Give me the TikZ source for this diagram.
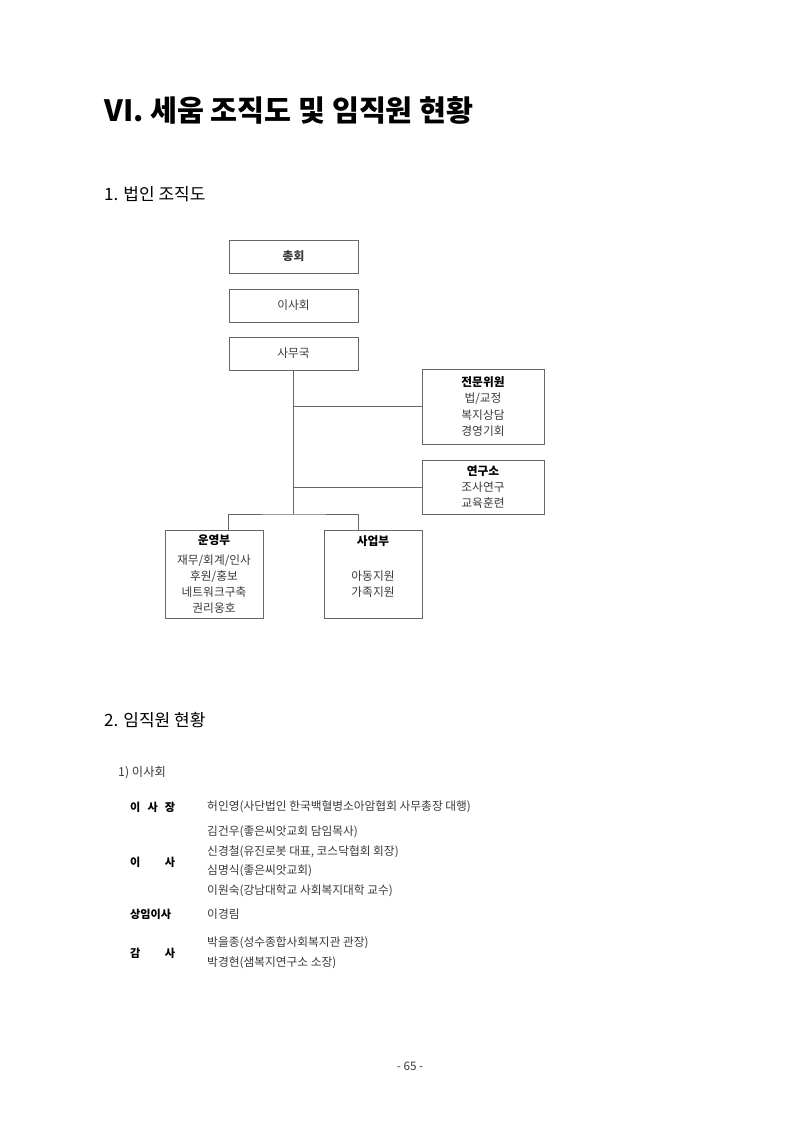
\documentclass[tikz,border=0pt]{standalone}
\usepackage{fontspec}
\setmainfont{Noto Sans CJK KR}
\usetikzlibrary{positioning}
\definecolor{linegray}{HTML}{666666}
\definecolor{textgray}{HTML}{3A3A3A}

\begin{document}
\begin{tikzpicture}[x=0.3mm, y=-0.3mm,
    box/.style={draw=linegray, line width=0.7pt, inner sep=0pt, align=center,
      text=textgray, font=\fontsize{10}{13.7}\selectfont},
    conn/.style={draw=linegray, line width=0.7pt},
    head/.style={anchor=west, inner sep=0pt, text=black},
    lbl/.style={anchor=west, inner sep=0pt, font=\fontsize{9.5}{12}\selectfont\bfseries},
    val/.style={anchor=west, inner sep=0pt, text=textgray, font=\fontsize{10}{12}\selectfont}]
    \useasboundingbox (0,0) rectangle (800,1131);
    % Headings
    \node[head, font=\fontsize{25}{30}\selectfont\bfseries] (title) at (104,110) {VI. 세움 조직도 및 임직원 현황};
    \node[head, font=\fontsize{14.5}{18}\selectfont] (sec1) at (104,194) {1. 법인 조직도};
    \node[head, font=\fontsize{14.5}{18}\selectfont] (sec2) at (104,720) {2. 임직원 현황};
    \node[head, font=\fontsize{10.5}{13}\selectfont, text=textgray] (sub1) at (118,773) {1) 이사회};
    % Org chart
    \node[box, minimum width=38.7mm, minimum height=9.9mm] (chonghoe) at (293.5,256.5) {\textbf{총회}};
    \node[box, minimum width=38.7mm, minimum height=9.9mm] (isahoe) at (293.5,305.5) {이사회};
    \node[box, minimum width=38.7mm, minimum height=9.9mm] (samuguk) at (293.5,353.5) {사무국};
    \node[box, minimum width=36.6mm, minimum height=22.5mm] (jeonmun) at (483,406.5)
      {\textcolor{black}{\textbf{전문위원}}\\법/교정\\복지상담\\경영기회};
    \node[box, minimum width=36.6mm, minimum height=16.2mm] (yeonguso) at (483,487)
      {\textcolor{black}{\textbf{연구소}}\\조사연구\\교육훈련};
    \node[box, minimum width=29.4mm, minimum height=26.4mm] (unyeong) at (214,574)
      {\textcolor{black}{\textbf{운영부}}\\[1mm]재무/회계/인사\\후원/홍보\\네트워크구축\\권리옹호};
    \node[box, minimum width=29.4mm, minimum height=26.4mm] (saeop) at (373,574)
      {\textcolor{black}{\textbf{사업부}}\\[1mm]\mbox{}\\아동지원\\가족지원\\\mbox{}};
    % Lines
    \coordinate (branch) at (293.5,514);
    \draw[conn] (samuguk.south) -- (branch);
    \draw[conn] (samuguk.south |- jeonmun.west) -- (jeonmun.west);
    \draw[conn] (samuguk.south |- yeonguso.west) -- (yeonguso.west);
    \draw[conn] (samuguk.west |- unyeong.north) |- (branch) -| (samuguk.east |- saeop.north);
    % Board members
    \node[lbl] (l1) at (130,807) {\makebox[13.5mm][s]{이\hfill 사\hfill 장}};
    \node[lbl] (l2) at (130,862) {\makebox[13.5mm][s]{이\hfill 사}};
    \node[lbl] (l3) at (130,914) {\makebox[13.5mm][s]{상임이사}};
    \node[lbl] (l4) at (130,953) {\makebox[13.5mm][s]{감\hfill 사}};
    \node[val] (v1) at (207,807) {허인영(사단법인 한국백혈병소아암협회 사무총장 대행)};
    \node[val] (v2) at (207,832) {김건우(좋은씨앗교회 담임목사)};
    \node[val] (v3) at (207,852) {신경철(유진로봇 대표, 코스닥협회 회장)};
    \node[val] (v4) at (207,871) {심명식(좋은씨앗교회)};
    \node[val] (v5) at (207,891) {이원숙(강남대학교 사회복지대학 교수)};
    \node[val] (v6) at (207,914) {이경림};
    \node[val] (v7) at (207,943) {박을종(성수종합사회복지관 관장)};
    \node[val] (v8) at (207,963) {박경현(샘복지연구소 소장)};
    % Page number
    \node[text=textgray, font=\fontsize{10}{12}\selectfont] (pagenum) at (410,1066) {- 65 -};
\end{tikzpicture}
\end{document}
